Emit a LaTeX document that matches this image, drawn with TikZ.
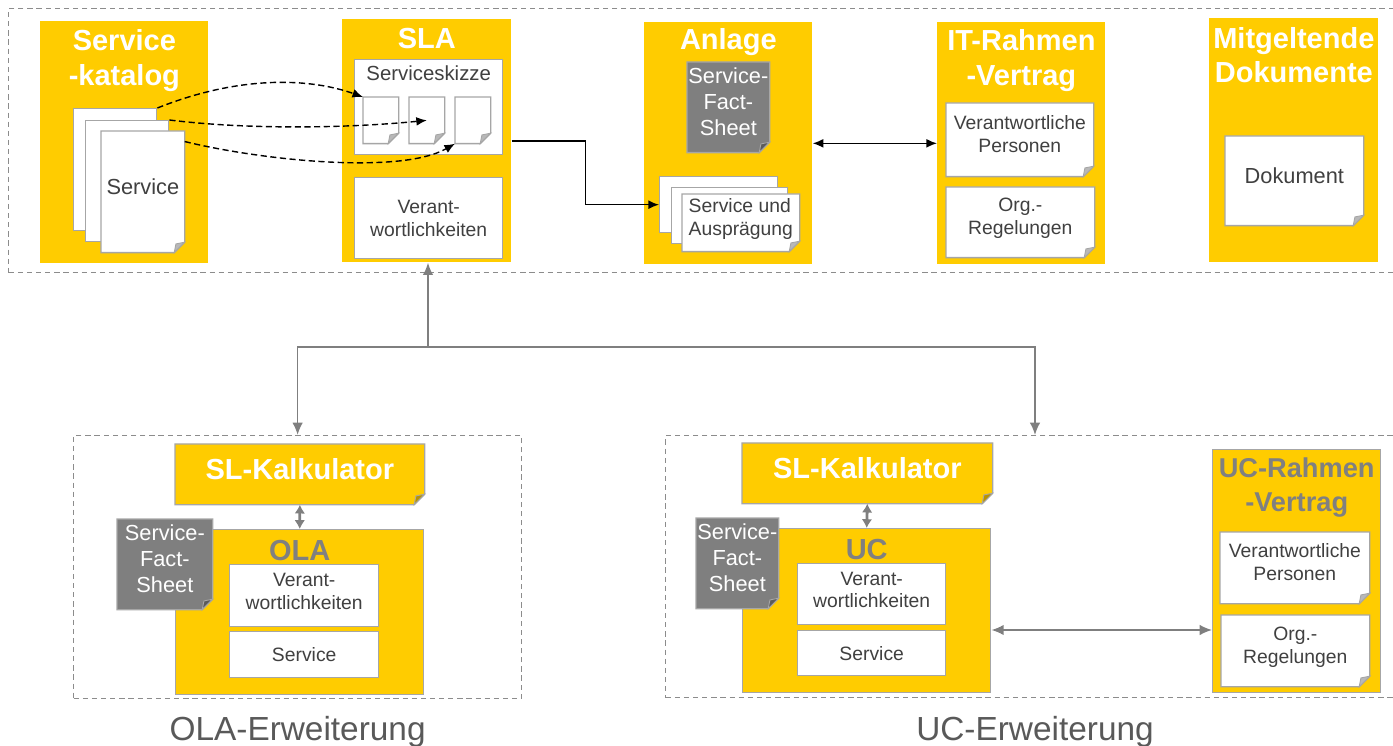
\documentclass[tikz,border=0pt]{standalone}
\usepackage{fontspec}
\setmainfont{Liberation Sans}
\usepackage{tikz}
\usetikzlibrary{arrows.meta, positioning}

\definecolor{slyellow}{HTML}{FFCC00}
\definecolor{txt}{HTML}{404040}
\definecolor{docline}{HTML}{A6A6A6}
\definecolor{factgray}{HTML}{7F7F7F}
\definecolor{headgray}{HTML}{808080}
\definecolor{framegray}{HTML}{8C8C8C}
\definecolor{capgray}{HTML}{595959}

\newcommand{\headfont}{\fontsize{16.5}{19.8}\selectfont\bfseries}
\newcommand{\bodyfont}{\fontsize{11}{13}\selectfont}
\newcommand{\midfont}{\fontsize{11.6}{14}\selectfont}
\newcommand{\bigbodyfont}{\fontsize{12.4}{14.8}\selectfont}
\newcommand{\capfont}{\fontsize{19}{23}\selectfont}

\begin{document}
\begin{tikzpicture}[
        % Koordinaten in Pixeln (y nach unten)
        x=0.02cm, y=-0.02cm,
        wh/.style 2 args={minimum width=#1*0.02cm, minimum height=#2*0.02cm},
        % gelbe Spalten
        col/.style={rectangle, fill=slyellow, inner sep=0pt, anchor=north west},
        ycol/.style={col, draw=docline, line width=0.8pt},
        % gestrichelte Rahmen
        frame/.style={rectangle, draw=framegray, line width=0.7pt,
            dash pattern=on 3pt off 2.2pt, inner sep=0pt, anchor=north west},
        % weisse Kästen
        wbox/.style={rectangle, draw=docline, line width=0.8pt, fill=white,
            text=txt, font=\bodyfont, align=center, inner sep=0pt, anchor=north west},
        % Dokument mit Eselsohr
        doc/.style={rectangle, inner sep=0pt, anchor=north west, align=center,
            text=txt, font=\bodyfont, text depth=6.5pt,
            append after command={\pgfextra{\pgfinterruptpath
                \draw[docline, line width=0.8pt, fill=#1]
                    (\tikzlastnode.north west) -- (\tikzlastnode.north east)
                    -- ([yshift=6pt]\tikzlastnode.south east)
                    -- ([xshift=-6pt]\tikzlastnode.south east)
                    -- (\tikzlastnode.south west) -- cycle;
                \draw[docline, line width=0.5pt, fill=#1!72!black]
                    ([yshift=6pt]\tikzlastnode.south east)
                    -- ([xshift=-5pt, yshift=5pt]\tikzlastnode.south east)
                    -- ([xshift=-6pt]\tikzlastnode.south east) -- cycle;
                \endpgfinterruptpath}}},
        doc/.default=white,
        sfs/.style={doc=factgray, text=white, font=\bigbodyfont, text depth=7pt},
        % Titel
        head/.style={font=\headfont, text=white, align=center, inner sep=0pt},
        ghead/.style={head, text=headgray},
        caption/.style={font=\capfont, text=capgray, inner sep=0pt},
        % Pfeile
        arrow/.style={-{Latex[length=6pt, width=5pt]}, line width=0.8pt},
        dasharrow/.style={arrow, dash pattern=on 3.5pt off 2pt},
        dblarrow/.style={{Latex[length=6pt, width=5pt]}-{Latex[length=6pt, width=5pt]}, line width=0.8pt},
        garrow/.style={-{Latex[length=7pt, width=6pt]}, draw=factgray, line width=1pt},
        gdbl/.style={{Latex[length=5pt, width=6pt]}-{Latex[length=5pt, width=6pt]}, draw=factgray, line width=1.6pt},
        gdblthin/.style={{Latex[length=7pt, width=6pt]}-{Latex[length=7pt, width=6pt]}, draw=factgray, line width=1pt}
    ]

    \useasboundingbox (0,0) rectangle (1393,746);
    \clip (0,0) rectangle (1393,746);

    % 1. Rahmen
    \node[frame, wh={1392}{264}] (topframe) at (8,8) {};
    \node[frame, wh={448}{263}] (olaframe) at (73,435) {};
    \node[frame, wh={735}{262}] (ucframe) at (665,435) {};

    % 2. Servicekatalog
    \node[col, wh={168}{242}] (cat) at (40,21) {};
    \node[head, below=4.5pt of cat.north] (cattitle) {Service\\-katalog};
    \node[wbox, wh={83}{122}] (catback1) at (73,108) {};
    \node[wbox, wh={83}{121}] (catback2) at (85,120) {};
    \node[doc, wh={83}{121}, font=\bigbodyfont] (catdoc) at (101,131) {Service};

    % 3. SLA
    \node[col, wh={169}{243}] (sla) at (342,19) {};
    \node[head, below=5pt of sla.north] (slatitle) {SLA};
    \node[wbox, wh={148}{95}] (skizze) at (354,59) {};
    \node[below=3.5pt of skizze.north, text=txt, font=\midfont, inner sep=0pt] (skizzetitle) {Serviceskizze};
    \foreach \i/\x in {1/363, 2/409, 3/455}
        \node[doc, wh={35}{46}] (sk\i) at (\x,97) {};
    \node[wbox, wh={148}{81}] (slaver) at (354,177) {Verant-\\wortlichkeiten};

    % 4. Anlage
    \node[col, wh={168}{242}] (anl) at (644,22) {};
    \node[head, below=3.5pt of anl.north] (anltitle) {Anlage};
    \node[sfs, wh={82}{90}] (anlsfs) at (687,62) {Service-\\Fact-\\Sheet};
    \node[wbox, wh={118}{56}] (anlback1) at (659,176) {};
    \node[wbox, wh={116}{56}] (anlback2) at (671,187) {};
    \node[doc, wh={117}{57}, align=left] (anldoc) at (682,194) {Service und\\Ausprägung};

    % 5. IT-Rahmenvertrag
    \node[col, wh={168}{242}] (itr) at (937,22) {};
    \node[head, below=4pt of itr.north] (itrtitle) {IT-Rahmen\\-Vertrag};
    \node[doc, wh={147}{73}] (itrpers) at (946,103) {Verantwortliche\\Personen};
    \node[doc, wh={148}{70}] (itrorg) at (946,187) {Org.-\\Regelungen};

    % 6. Mitgeltende Dokumente
    \node[col, wh={169}{244}] (mit) at (1209,18) {};
    \node[head, below=5pt of mit.north] (mittitle) {Mitgeltende\\Dokumente};
    \node[doc, wh={138}{89}, font=\bigbodyfont] (mitdoc) at (1225,136) {Dokument};

    % 7. Pfeile oben
    \draw[dasharrow] (catback1.north east) .. controls (240,75) and (310,78) .. (sk1.north west);
    \draw[dasharrow] (catback2.north east) .. controls (250,130) and (350,128) .. (sk2.center);
    \draw[dasharrow] ([yshift=-6pt]catdoc.north east) .. controls (260,160) and (400,175) .. (sk3.south west);
    \draw[arrow] (sla.east) -- ++(74,0) |- (anlback1.west);
    \draw[dblarrow] (anl.east) -- (itr.west);

    % 8. OLA-Erweiterung
    \node[doc=slyellow, wh={249}{60}, text=white, font=\headfont] (olakalk) at (175,444) {SL-Kalkulator};
    \node[ycol, wh={248}{165}] (ola) at (175,529) {};
    \node[ghead, below=6pt of ola.north] (olatitle) {OLA};
    \node[wbox, wh={149}{62}, text depth=5pt] (olaver) at (229,564) {Verant-\\wortlichkeiten};
    \node[wbox, wh={149}{46}] (olaserv) at (229,631) {Service};
    \node[sfs, wh={95}{90}] (olasfs) at (117,519) {Service-\\Fact-\\Sheet};
    \draw[gdbl] (olakalk.south) -- (ola.north);

    % 9. UC-Erweiterung
    \node[doc=slyellow, wh={250}{60}, text=white, font=\headfont] (uckalk) at (742,443) {SL-Kalkulator};
    \node[ycol, wh={248}{164}] (uc) at (742,528) {};
    \node[ghead, below=6pt of uc.north] (uctitle) {UC};
    \node[wbox, wh={148}{61}, text depth=5pt] (ucver) at (797,563) {Verant-\\wortlichkeiten};
    \node[wbox, wh={148}{45}] (ucserv) at (797,630) {Service};
    \node[sfs, wh={82}{90}] (ucsfs) at (696,518) {Service-\\Fact-\\Sheet};
    \draw[gdbl] (uckalk.south) -- (uc.north);
    \node[ycol, wh={168}{243}] (ucr) at (1212,449) {};
    \node[ghead, below=5pt of ucr.north, font=\fontsize{15.5}{19}\selectfont\bfseries] (ucrtitle) {UC-Rahmen\\-Vertrag};
    \node[doc, wh={149}{71}] (ucrpers) at (1220,532) {Verantwortliche\\Personen};
    \node[doc, wh={148}{71}] (ucrorg) at (1221,615) {Org.-\\Regelungen};
    \draw[gdblthin] (uc.east |- ucserv.north) -- (ucr.west |- ucserv.north);

    % 10. Verbindung SLA - Erweiterungen
    \coordinate (split) at (428,347);
    \coordinate (ucin) at (1035,435);
    \draw[garrow] (split) -- (split |- sla.south);
    \draw[garrow] (split) -| (olaframe.north);
    \draw[garrow] (split) -| (ucin);

    % 11. Beschriftungen
    \node[caption, below=9.5pt of olaframe.south] (olacap) {OLA-Erweiterung};
    \node[caption] (uccap) at (ucin |- olacap) {UC-Erweiterung};

\end{tikzpicture}
\end{document}
